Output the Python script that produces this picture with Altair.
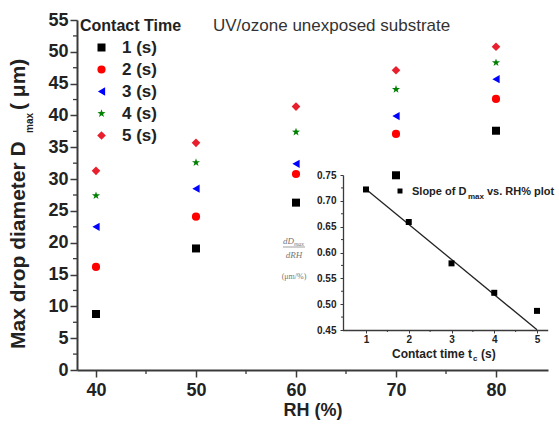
import altair as alt
import pandas as pd

# ---------------- data ----------------
rh = [40, 50, 60, 70, 80]
contact = ["1 (s)", "2 (s)", "3 (s)", "4 (s)", "5 (s)"]
d_1s = [8.8, 19.1, 26.3, 30.6, 37.6]
d_2s = [16.2, 24.1, 30.8, 37.1, 42.6]
d_3s = [22.5, 28.5, 32.4, 39.9, 45.7]
d_4s = [27.4, 32.6, 37.4, 44.1, 48.3]
d_5s = [31.3, 35.7, 41.4, 47.1, 50.8]

tc = [1, 2, 3, 4, 5]
slope = [0.722, 0.659, 0.579, 0.522, 0.487]

y_major = [0, 5, 10, 15, 20, 25, 30, 35, 40, 45, 50, 55]
y_minor = [2.5, 7.5, 12.5, 17.5, 22.5, 27.5, 32.5, 37.5, 42.5, 47.5, 52.5]
x_minor = [45, 55, 65, 75]
inset_y_major = [0.45, 0.50, 0.55, 0.60, 0.65, 0.70, 0.75]
inset_y_minor = [0.475, 0.525, 0.575, 0.625, 0.675, 0.725]
inset_x_minor = [1.5, 2.5, 3.5, 4.5]

colors = ["#000000", "#ff0000", "#0000ff", "#008000", "#e8202e"]
star = ("M0,-1L0.235,-0.324L0.951,-0.309L0.38,0.124L0.588,0.809L0,0.4"
        "L-0.588,0.809L-0.38,0.124L-0.951,-0.309L-0.235,-0.324Z")
shapes = ["square", "circle", "triangle-left", star, "diamond"]
sizes = [64, 75, 80, 110, 121]

FONT = "Liberation Sans"
AX = "#3a3a3a"
TXT = "#222222"

rows = []
for name, vals in zip(contact, [d_1s, d_2s, d_3s, d_4s, d_5s]):
    for r, v in zip(rh, vals):
        rows.append({"RH": r, "D": v, "ct": name})
main_df = pd.DataFrame(rows)
inset_df = pd.DataFrame({"t": tc, "s": slope})

# ---------------- main panel ----------------
xs = alt.Scale(domain=[38.1, 85.2], nice=False, zero=False)
ys = alt.Scale(domain=[0, 55], nice=False, zero=False)

x_axis = alt.Axis(
    values=rh, title="RH (%)", orient="bottom", grid=False,
    labelFont=FONT, labelFontSize=18, labelFontWeight="bold", labelColor=TXT,
    titleFont=FONT, titleFontSize=18, titleFontWeight="bold", titleColor=TXT,
    titlePadding=2, labelPadding=4, tickSize=7, tickWidth=1.5, tickColor=AX,
    domainColor=AX, domainWidth=2)
y_axis = alt.Axis(
    values=y_major, title=None, orient="left", grid=False,
    labelFont=FONT, labelFontSize=18, labelFontWeight="bold", labelColor=TXT,
    labelPadding=2, tickSize=7, tickWidth=1.5, tickColor=AX,
    domainColor=AX, domainWidth=2)

legend = alt.Legend(
    title="Contact Time", orient="none", legendX=3, legendY=-2, padding=0,
    titleFont=FONT, titleFontSize=16, titleFontWeight="bold", titleColor=TXT,
    titlePadding=5, labelFont=FONT, labelFontSize=17, labelFontWeight="bold",
    labelColor=TXT, symbolSize=70, symbolStrokeWidth=0, symbolOffset=13,
    labelOffset=12, rowPadding=4,
)

points = alt.Chart(main_df).mark_point(filled=True, opacity=1, strokeWidth=0).encode(
    x=alt.X("RH:Q", scale=xs, axis=x_axis),
    y=alt.Y("D:Q", scale=ys, axis=y_axis),
    color=alt.Color("ct:N", scale=alt.Scale(domain=contact, range=colors), legend=legend),
    shape=alt.Shape("ct:N", scale=alt.Scale(domain=contact, range=shapes), legend=legend),
    size=alt.Size("ct:N", scale=alt.Scale(domain=contact, range=sizes), legend=None),
)

ymin = alt.Chart(pd.DataFrame({"D": y_minor})).mark_rule(color=AX, strokeWidth=1.3).encode(
    y=alt.Y("D:Q", scale=ys, axis=y_axis), x=alt.value(-4), x2=alt.value(0))
xmin = alt.Chart(pd.DataFrame({"RH": x_minor})).mark_rule(color=AX, strokeWidth=1.3).encode(
    x=alt.X("RH:Q", scale=xs, axis=x_axis), y=alt.value(350), y2=alt.value(354))

main = alt.layer(points, ymin, xmin)

# ---------------- inset ----------------
ixs = alt.Scale(domain=[0.45, 5.25], range=[265.5, 470.7], nice=False, zero=False)
iys = alt.Scale(domain=[0.45, 0.75], range=[310, 155], nice=False, zero=False)

ix_axis = alt.Axis(
    values=tc, title=None, orient="bottom", offset=-40, grid=False,
    labelFont=FONT, labelFontSize=10, labelFontWeight="bold", labelColor=TXT,
    labelPadding=1, tickSize=3, tickColor=AX, domainColor=AX, domainWidth=1.3)
iy_axis = alt.Axis(
    values=inset_y_major, format=".2f", title=None, orient="left", offset=-266,
    grid=False, labelFont=FONT, labelFontSize=10, labelFontWeight="bold",
    labelColor=TXT, labelPadding=4, tickSize=3, tickColor=AX,
    domainColor=AX, domainWidth=1.3)

inset_pts = alt.Chart(inset_df).mark_point(
    shape="square", filled=True, color="#000000", size=36, opacity=1).encode(
    x=alt.X("t:Q", scale=ixs, axis=ix_axis),
    y=alt.Y("s:Q", scale=iys, axis=iy_axis),
)

reg = alt.Chart(inset_df).transform_filter("datum.t <= 4").transform_regression(
    "t", "s", extent=[1, 5]).mark_line(color="#222222", strokeWidth=1.3).encode(
    x=alt.X("t:Q", scale=ixs, axis=ix_axis), y=alt.Y("s:Q", scale=iys, axis=iy_axis))

iymin = alt.Chart(pd.DataFrame({"s": inset_y_minor})).mark_rule(color=AX, strokeWidth=1).encode(
    y=alt.Y("s:Q", scale=iys, axis=iy_axis), x=alt.value(264), x2=alt.value(266))
ixmin = alt.Chart(pd.DataFrame({"t": inset_x_minor})).mark_rule(color=AX, strokeWidth=1).encode(
    x=alt.X("t:Q", scale=ixs, axis=ix_axis), y=alt.value(310), y2=alt.value(312))

inset = alt.layer(reg, inset_pts, iymin, ixmin)

# ---------------- annotations ----------------
def label(txt, x, y, size, **kw):
    props = dict(font=FONT, fontSize=size, color=TXT, align="left", baseline="alphabetic")
    props.update(kw)
    return alt.Chart(pd.DataFrame({"label": [txt]})).mark_text(**props).encode(
        text="label:N", x=alt.value(x), y=alt.value(y))

title_txt = "UV/ozone unexposed substrate"
ytitle = ["Max drop diameter D", "max", "( μm)"]
inset_leg = ["Slope of D", "max", "vs. RH% plot"]
inset_xt = ["Contact time t", "c", "(s)"]
frac = ["dD", "max", "dRH", "(μm/%)"]

ann = [
    label(title_txt, 136, 6, 17, baseline="middle", color="#333333"),
    label(ytitle[0], -52, 329, 21, angle=270, fontWeight="bold"),
    label(ytitle[1], -44, 113, 10, angle=270, fontWeight="bold"),
    label(ytitle[2], -52, 90, 21, angle=270, fontWeight="bold"),
    alt.Chart(pd.DataFrame({"k": [1]})).mark_point(
        shape="square", filled=True, color="#000000", size=25, opacity=1).encode(
        x=alt.value(323), y=alt.value(171)),
    label(inset_leg[0], 335, 175, 11, fontWeight="bold"),
    label(inset_leg[1], 391, 179, 8, fontWeight="bold"),
    label(inset_leg[2], 410, 175, 11, fontWeight="bold"),
    label(inset_xt[0], 315, 338, 12, fontWeight="bold"),
    label(inset_xt[1], 396, 341, 8, fontWeight="bold"),
    label(inset_xt[2], 404, 338, 12, fontWeight="bold"),
    label(frac[0], 206, 224, 9, font="Liberation Serif", fontStyle="italic", color="#777777"),
    label(frac[1], 217, 226, 6, font="Liberation Serif", fontStyle="italic", color="#777777"),
    alt.Chart(pd.DataFrame({"k": [1]})).mark_rule(color="#888888", strokeWidth=0.8).encode(
        x=alt.value(206), x2=alt.value(228), y=alt.value(227)),
    label(frac[2], 217, 238, 9, font="Liberation Serif", fontStyle="italic",
          color="#777777", align="center"),
    label(frac[3], 217, 259, 8, font="Liberation Serif", color="#777777", align="center"),
]

chart = alt.layer(main, inset, *ann).resolve_scale(
    x="independent", y="independent"
).properties(
    width=471, height=350,
    autosize=alt.AutoSizeParams(type="none"),
    padding={"left": 77, "top": 20, "right": 11, "bottom": 55},
    background="white",
).configure_view(stroke=None)

chart.save("out.html", embed_options={"renderer": "svg", "actions": False})
